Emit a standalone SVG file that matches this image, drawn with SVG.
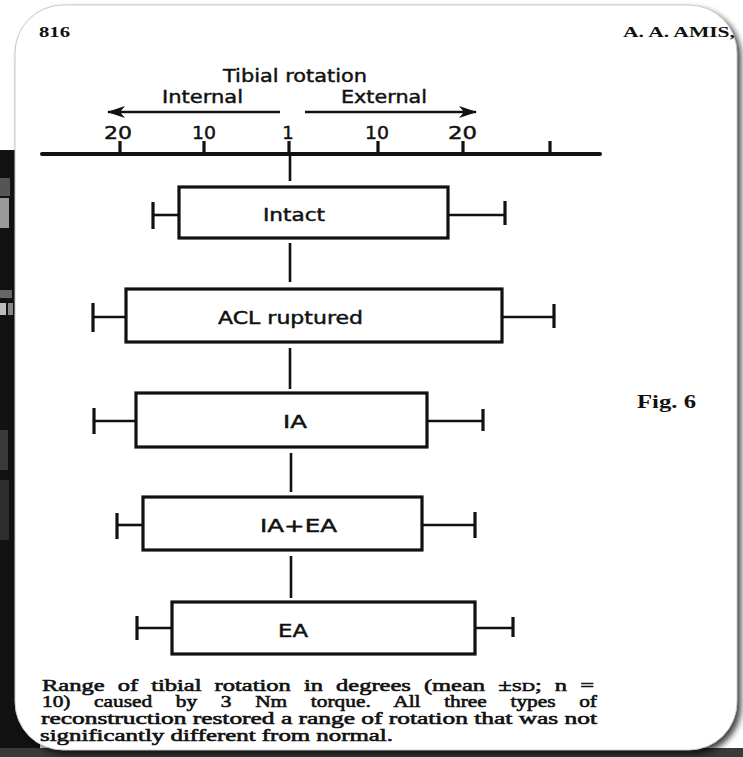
<svg xmlns="http://www.w3.org/2000/svg" width="743" height="757" viewBox="0 0 743 757">
<defs>
<filter id="blur" x="-5%" y="-5%" width="110%" height="110%"><feGaussianBlur stdDeviation="3"/></filter>
<marker id="ah" viewBox="0 0 18 12" refX="17" refY="6" markerWidth="18" markerHeight="12" markerUnits="userSpaceOnUse" orient="auto"><path d="M0,0 L18,6 L0,12 L5,6 Z" fill="#111"/></marker>
</defs>
<style>
.box{fill:#fff;stroke:#111;stroke-width:3.2}
.wh{stroke:#111;stroke-width:2.6;fill:none}
.cap{stroke:#111;stroke-width:3.2;fill:none}
.con{stroke:#111;stroke-width:2.6;fill:none}
.sans{font-family:"DejaVu Sans","Liberation Sans",sans-serif;fill:#111;stroke:#111;stroke-width:0.45}
.lbl{font-size:17px}
.ax{font-size:18px}
.serif{font-family:"Liberation Serif","Times New Roman",serif;fill:#111}
.hdr{font-size:15px;font-weight:bold}
.capt{font-size:17.5px;stroke:#111;stroke-width:0.6}
</style>
<rect x="0" y="0" width="743" height="757" fill="#fff"/>
<g id="backdrop">
<rect x="0" y="150" width="40" height="607" fill="#121212"/>
<rect x="0" y="178" width="10" height="18" fill="#555"/>
<rect x="0" y="198" width="9" height="30" fill="#9a9a9a"/>
<rect x="0" y="290" width="12" height="8" fill="#666"/>
<rect x="0" y="303" width="6" height="12" fill="#bbb"/>
<rect x="8" y="303" width="5" height="12" fill="#888"/>
<rect x="0" y="430" width="8" height="40" fill="#3a3a3a"/>
<rect x="0" y="480" width="9" height="60" fill="#2e2e2e"/>
<rect x="0" y="748" width="743" height="9" fill="#3a3a3a"/>
</g>
<rect x="19" y="9" width="722" height="745" rx="48" fill="#000" opacity="0.75" filter="url(#blur)"/>
<rect id="card" x="15" y="5" width="722" height="745" rx="48" fill="#fff" stroke="#c8c8c8" stroke-width="1"/>
<g id="header">
<text class="serif hdr" x="39" y="37" textLength="31" lengthAdjust="spacingAndGlyphs">816</text>
<text class="serif hdr" x="623" y="37" textLength="112" lengthAdjust="spacingAndGlyphs">A. A. AMIS,</text>
</g>
<g id="axis">
<text class="sans ax" x="223" y="82" textLength="144" lengthAdjust="spacingAndGlyphs">Tibial rotation</text>
<text class="sans ax" x="162" y="103" textLength="81" lengthAdjust="spacingAndGlyphs">Internal</text>
<text class="sans ax" x="341" y="103" textLength="86" lengthAdjust="spacingAndGlyphs">External</text>
<line x1="280" y1="112" x2="108" y2="112" stroke="#111" stroke-width="2.4" marker-end="url(#ah)"/>
<line x1="305" y1="112" x2="476" y2="112" stroke="#111" stroke-width="2.4" marker-end="url(#ah)"/>
<text class="sans ax" x="104" y="139" textLength="28" lengthAdjust="spacingAndGlyphs">20</text>
<text class="sans ax" x="192" y="139" textLength="24" lengthAdjust="spacingAndGlyphs">10</text>
<text class="sans ax" x="288" y="139" text-anchor="middle">1</text>
<text class="sans ax" x="365" y="139" textLength="24" lengthAdjust="spacingAndGlyphs">10</text>
<text class="sans ax" x="448" y="139" textLength="29" lengthAdjust="spacingAndGlyphs">20</text>
<line x1="42" y1="154" x2="600" y2="154" stroke="#111" stroke-width="4" stroke-linecap="round"/>
<g stroke="#111" stroke-width="3.2">
<line x1="120" y1="141" x2="120" y2="154"/>
<line x1="204" y1="141" x2="204" y2="154"/>
<line x1="289" y1="141" x2="289" y2="154"/>
<line x1="378" y1="141" x2="378" y2="154"/>
<line x1="463" y1="141" x2="463" y2="154"/>
<line x1="550" y1="141" x2="550" y2="154"/>
</g>
</g>
<g id="connectors">
<line class="con" x1="290" y1="154" x2="290" y2="181"/>
<line class="con" x1="290" y1="243" x2="290" y2="282"/>
<line class="con" x1="290" y1="348" x2="290" y2="389"/>
<line class="con" x1="291" y1="453" x2="291" y2="492"/>
<line class="con" x1="291" y1="556" x2="291" y2="598"/>
</g>
<g id="intact">
<line class="wh" x1="153" y1="215" x2="179" y2="215"/>
<line class="cap" x1="153" y1="202" x2="153" y2="229"/>
<line class="wh" x1="448" y1="215" x2="505" y2="215"/>
<line class="cap" x1="505" y1="201" x2="505" y2="225"/>
<rect class="box" x="179" y="187" width="269" height="51"/>
<text class="sans lbl" x="263" y="221" textLength="62" lengthAdjust="spacingAndGlyphs">Intact</text>
</g>
<g id="acl">
<line class="wh" x1="93" y1="317" x2="126" y2="317"/>
<line class="cap" x1="93" y1="303" x2="93" y2="332"/>
<line class="wh" x1="502" y1="317" x2="554" y2="317"/>
<line class="cap" x1="554" y1="304" x2="554" y2="328"/>
<rect class="box" x="126" y="289" width="376" height="53"/>
<text class="sans lbl" x="218" y="324" textLength="145" lengthAdjust="spacingAndGlyphs">ACL ruptured</text>
</g>
<g id="ia">
<line class="wh" x1="94" y1="421" x2="136" y2="421"/>
<line class="cap" x1="94" y1="408" x2="94" y2="434"/>
<line class="wh" x1="427" y1="421" x2="483" y2="421"/>
<line class="cap" x1="483" y1="409" x2="483" y2="431"/>
<rect class="box" x="136" y="393" width="291" height="54"/>
<text class="sans lbl" x="283" y="428" textLength="24" lengthAdjust="spacingAndGlyphs">IA</text>
</g>
<g id="iaea">
<line class="wh" x1="117" y1="525" x2="143" y2="525"/>
<line class="cap" x1="117" y1="513" x2="117" y2="539"/>
<line class="wh" x1="422" y1="525" x2="475" y2="525"/>
<line class="cap" x1="475" y1="512" x2="475" y2="538"/>
<rect class="box" x="143" y="497" width="279" height="53"/>
<text class="sans lbl" x="260" y="532" textLength="77" lengthAdjust="spacingAndGlyphs">IA+EA</text>
</g>
<g id="ea">
<line class="wh" x1="137" y1="628" x2="172" y2="628"/>
<line class="cap" x1="137" y1="616" x2="137" y2="640"/>
<line class="wh" x1="475" y1="628" x2="513" y2="628"/>
<line class="cap" x1="513" y1="617" x2="513" y2="637"/>
<rect class="box" x="172" y="602" width="303" height="52"/>
<text class="sans lbl" x="278" y="637" textLength="30" lengthAdjust="spacingAndGlyphs">EA</text>
</g>
<g id="figlabel">
<text class="serif" x="637" y="408" font-size="19" font-weight="bold" textLength="59" lengthAdjust="spacingAndGlyphs">Fig. 6</text>
</g>
<g id="caption">
<text class="serif capt" x="42" y="691" textLength="552" lengthAdjust="spacingAndGlyphs" word-spacing="5">Range of tibial rotation in degrees (mean ±<tspan font-size="13">SD</tspan>; n =</text>
<text class="serif capt" x="42" y="707" textLength="555" lengthAdjust="spacingAndGlyphs" word-spacing="15">10) caused by 3 Nm torque. All three types of</text>
<text class="serif capt" x="41" y="724" textLength="556" lengthAdjust="spacingAndGlyphs">reconstruction restored a range of rotation that was not</text>
<text class="serif capt" x="40" y="741" textLength="353" lengthAdjust="spacingAndGlyphs">significantly different from normal.</text>
</g>
</svg>
